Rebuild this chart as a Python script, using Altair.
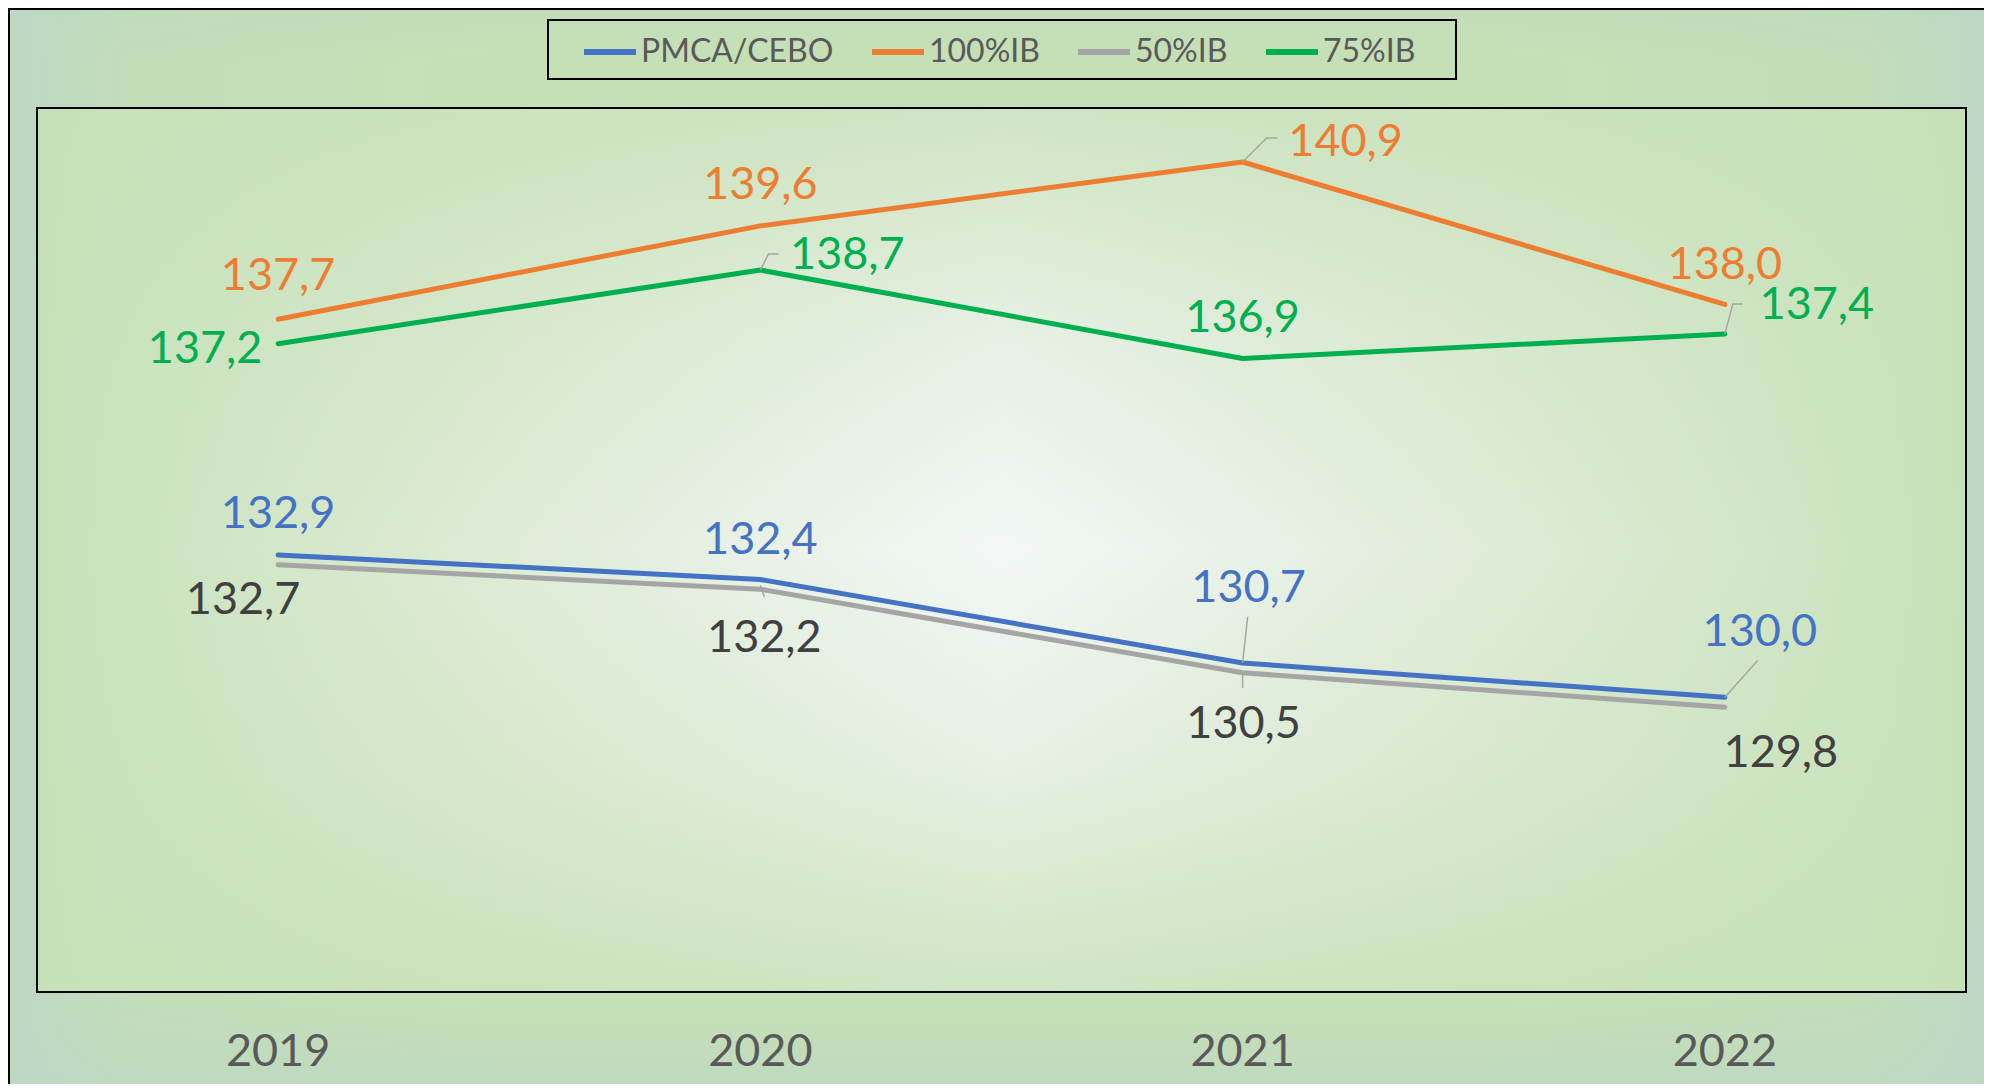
import altair as alt
import pandas as pd

# ---- data ----
years = [2019, 2020, 2021, 2022]
year_labels = ["2019", "2020", "2021", "2022"]
series_names = ["PMCA/CEBO", "100%IB", "50%IB", "75%IB"]
pmca = [132.9, 132.4, 130.7, 130.0]
ib100 = [137.7, 139.6, 140.9, 138.0]
ib50 = [132.7, 132.2, 130.5, 129.8]
ib75 = [137.2, 138.7, 136.9, 137.4]
series_values = [pmca, ib100, ib50, ib75]

line_colors = ["#4472C4", "#ED7D31", "#A5A5A5", "#00B050"]
label_colors = ["#4472C4", "#ED7D31", "#404040", "#00B050"]

# label placement (pixel offsets from each point, like manual Excel label positions)
label_offsets = {
    "PMCA/CEBO": [(0, -44), (0, -42), (6, -78), (35, -68)],
    "100%IB": [(0, -46), (0, -44), (103, -23), (0, -42)],
    "50%IB": [(-35, 32), (4, 46), (1, 48), (56, 43)],
    "75%IB": [(-73, 2), (87, -18), (0, -43), (92, -32)],
}
# leader lines: (series, year index, list of pixel offsets)
leaders = [
    ("100%IB", 2, [(0, 0), (24, -24), (35, -24)]),
    ("75%IB", 1, [(0, 0), (8, -16), (18, -16)]),
    ("75%IB", 3, [(0, 0), (8, -30), (18, -30)]),
    ("PMCA/CEBO", 2, [(0, 0), (5, -46)]),
    ("50%IB", 2, [(0, 0), (0, 15)]),
    ("PMCA/CEBO", 3, [(0, 0), (33, -37)]),
    ("50%IB", 1, [(0, -4), (4, 8)]),
]

# ---- layout ----
W, H = 1929, 884
PAD_L, PAD_T, PAD_R, PAD_B = 29, 100, 18, 92
X_DOM = [2018.5, 2022.5]
Y_DOM = [124, 142]
PX_X = W / (X_DOM[1] - X_DOM[0])
PX_Y = H / (Y_DOM[1] - Y_DOM[0])
FONT = "Lato"

rows = []
for s, vals in zip(series_names, series_values):
    for yr, v in zip(years, vals):
        rows.append({"year": yr, "value": v, "series": s})
df = pd.DataFrame(rows)

lab_rows = []
for si, (s, vals) in enumerate(zip(series_names, series_values)):
    for i, (yr, v) in enumerate(zip(years, vals)):
        dx, dy = label_offsets[s][i]
        lab_rows.append({
            "lx": yr + dx / PX_X,
            "ly": v - dy / PX_Y,
            "txt": f"{v:.1f}".replace(".", ","),
            "col": label_colors[si],
        })
labdf = pd.DataFrame(lab_rows)

lead_rows = []
for k, (s, i, pts) in enumerate(leaders):
    v = series_values[series_names.index(s)][i]
    for o, (dx, dy) in enumerate(pts):
        lead_rows.append({"id": k, "o": o, "lx": years[i] + dx / PX_X, "ly": v - dy / PX_Y})
leaddf = pd.DataFrame(lead_rows)

yeardf = pd.DataFrame({"year": years, "lab": year_labels})
one = pd.DataFrame({"a": [0]})

xscale = alt.Scale(domain=X_DOM, nice=False, zero=False)
yscale = alt.Scale(domain=Y_DOM, nice=False, zero=False)

# ---- background ----
outer_h = {
    "gradient": "linear", "x1": 0, "y1": 0, "x2": 1, "y2": 0,
    "stops": [
        {"offset": 0, "color": "#BDD7C4"},
        {"offset": 0.06, "color": "#C3DDBA"},
        {"offset": 0.25, "color": "#C6E0B5"},
        {"offset": 0.75, "color": "#C6E0B5"},
        {"offset": 0.94, "color": "#C3DDBA"},
        {"offset": 1, "color": "#BDD7C4"},
    ],
}
outer_v = {
    "gradient": "linear", "x1": 0, "y1": 0, "x2": 0, "y2": 1,
    "stops": [
        {"offset": 0, "color": "rgba(189,215,196,0.35)"},
        {"offset": 0.05, "color": "rgba(189,215,196,0)"},
        {"offset": 0.92, "color": "rgba(189,215,196,0)"},
        {"offset": 1, "color": "rgba(189,215,196,0.7)"},
    ],
}
plot_h = {
    "gradient": "linear", "x1": 0, "y1": 0, "x2": 1, "y2": 0,
    "stops": [
        {"offset": 0, "color": "#C6E0B6"},
        {"offset": 0.03, "color": "#CAE3BE"},
        {"offset": 0.25, "color": "#DFECD8"},
        {"offset": 0.5, "color": "#F3F7F6"},
        {"offset": 0.75, "color": "#DFECD8"},
        {"offset": 0.97, "color": "#CAE3BE"},
        {"offset": 1, "color": "#C6E0B6"},
    ],
}
plot_v = {
    "gradient": "linear", "x1": 0, "y1": 0, "x2": 0, "y2": 1,
    "stops": [
        {"offset": 0, "color": "rgba(198,224,182,0.8)"},
        {"offset": 0.25, "color": "rgba(198,224,182,0.3)"},
        {"offset": 0.5, "color": "rgba(198,224,182,0)"},
        {"offset": 0.75, "color": "rgba(198,224,182,0.3)"},
        {"offset": 1, "color": "rgba(198,224,182,0.8)"},
    ],
}

def rect(fill=None, stroke=None, sw=0, x0=0, x1=0, y0=0, y1=0):
    kw = {"fill": fill if fill is not None else "transparent"}
    if stroke is not None:
        kw["stroke"] = stroke
        kw["strokeWidth"] = sw
    return alt.Chart(one).mark_rect(**kw).encode(
        x=alt.value(x0), x2=alt.value(x1), y=alt.value(y0), y2=alt.value(y1)
    )

full = dict(x0=-PAD_L, x1=W + PAD_R, y0=-PAD_T, y1=H + PAD_B)
bg1 = rect(fill=outer_h, **full)
bg2 = rect(fill=outer_v, **full)
pbg1 = rect(fill=plot_h, x0=0, x1=W, y0=0, y1=H)
pbg2 = rect(fill=plot_v, x0=0, x1=W, y0=0, y1=H)
outer_frame = rect(stroke="#000000", sw=2, x0=-PAD_L + 1, x1=W + PAD_R + 40, y0=-PAD_T + 1, y1=H + PAD_B + 40)
plot_frame = rect(stroke="#000000", sw=2, x0=0, x1=W, y0=0, y1=H)
legend_box = rect(stroke="#000000", sw=2, x0=511, x1=1419, y0=-88, y1=-29)

# ---- data layers ----
lines = alt.Chart(df).mark_line(strokeWidth=5, strokeCap="round", strokeJoin="round").encode(
    x=alt.X("year:Q", scale=xscale, axis=None),
    y=alt.Y("value:Q", scale=yscale, axis=None),
    color=alt.Color("series:N", sort=series_names,
                    scale=alt.Scale(domain=series_names, range=line_colors),
                    legend=alt.Legend(title=None, orient="none", legendX=544, legendY=-85,
                                      direction="horizontal", symbolType="stroke",
                                      symbolStrokeWidth=6, symbolSize=2704,
                                      labelFontSize=32, labelFont=FONT, labelColor="#595959",
                                      labelOffset=2, columnPadding=26, padding=0,
                                      labelLimit=400, zindex=2)),
    order=alt.Order("year:Q"),
)

# category labels under the plot (x axis labels)
year_text = alt.Chart(yeardf).mark_text(
    fontSize=45, font=FONT, color="#595959", align="center", baseline="middle", dy=2
).encode(
    x=alt.X("year:Q", scale=xscale, axis=None),
    y=alt.value(H + 58),
    text="lab:N",
)

leader_lines = alt.Chart(leaddf).mark_line(stroke="#A5A5A5", strokeWidth=1.5).encode(
    x=alt.X("lx:Q", scale=xscale, axis=None),
    y=alt.Y("ly:Q", scale=yscale, axis=None),
    detail="id:N",
    order="o:Q",
)

labels = alt.Chart(labdf).mark_text(fontSize=45, font=FONT, align="center", baseline="middle", dy=3).encode(
    x=alt.X("lx:Q", scale=xscale, axis=None),
    y=alt.Y("ly:Q", scale=yscale, axis=None),
    text="txt:N",
    color=alt.Color("col:N", scale=None, legend=None),
)

chart = alt.layer(
    bg1, bg2, pbg1, pbg2, outer_frame, legend_box, plot_frame, lines, leader_lines, labels, year_text
).properties(
    width=W, height=H,
    autosize=alt.AutoSizeParams(type="none"),
    padding={"left": PAD_L, "top": PAD_T, "right": PAD_R, "bottom": PAD_B},
).configure_view(stroke="transparent")

chart.save("out.html", embed_options={"renderer": "svg", "actions": False})
